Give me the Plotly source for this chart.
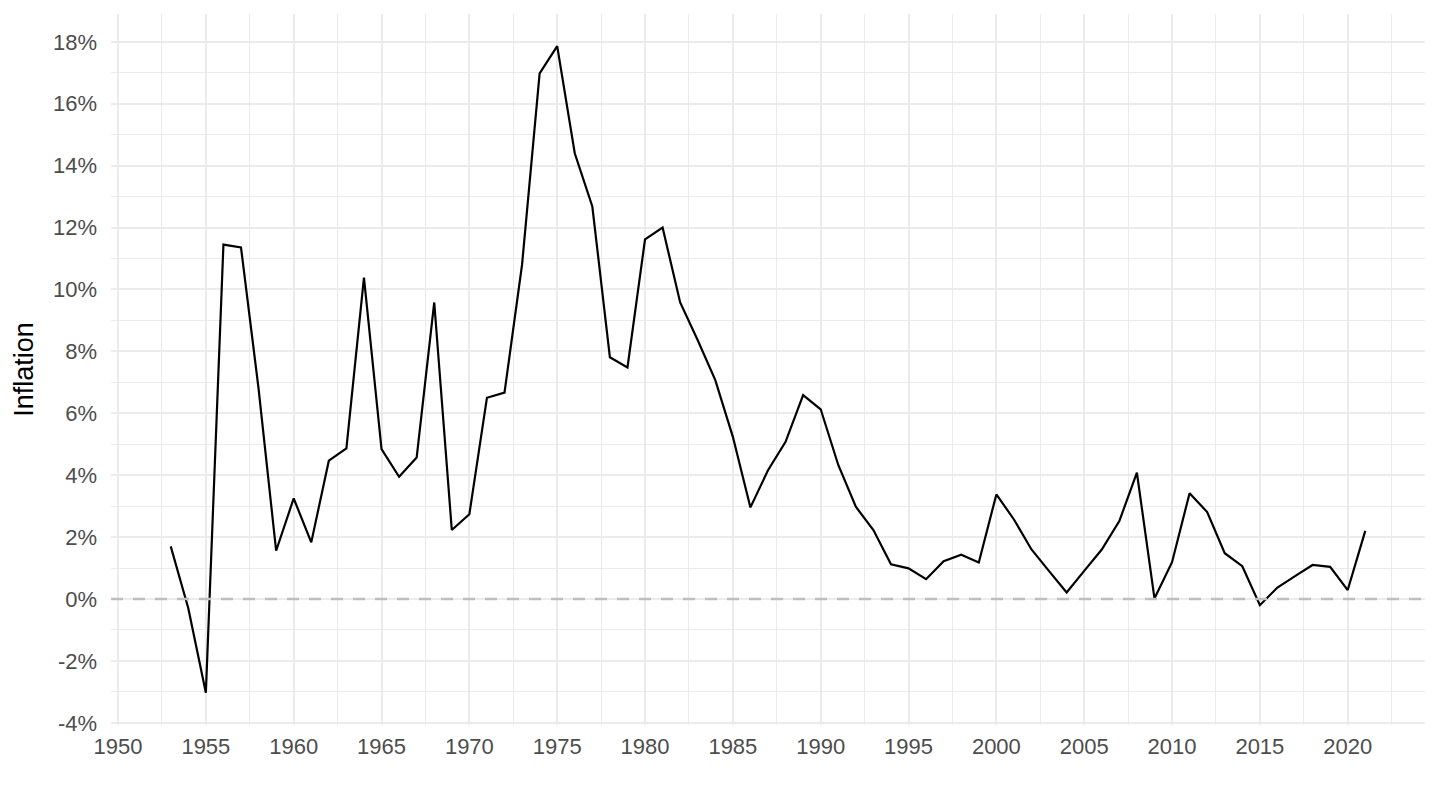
import plotly.graph_objects as go

years = list(range(1953, 2022))
inflation = [
    1.70, -0.30, -3.03, 11.45, 11.36, 6.80, 1.56, 3.25, 1.83, 4.47,
    4.87, 10.38, 4.84, 3.95, 4.57, 9.58, 2.23, 2.74, 6.50, 6.67,
    10.80, 16.98, 17.86, 14.40, 12.68, 7.81, 7.48, 11.62, 12.00, 9.58,
    8.36, 7.07, 5.24, 2.96, 4.16, 5.08, 6.59, 6.13, 4.33, 2.98,
    2.23, 1.12, 0.99, 0.64, 1.22, 1.43, 1.18, 3.38, 2.57, 1.60,
    0.90, 0.21, 0.91, 1.60, 2.52, 4.08, 0.02, 1.19, 3.42, 2.81,
    1.48, 1.06, -0.20, 0.37, 0.74, 1.10, 1.04, 0.29, 2.20,
]

y_tick_vals = [-4, -2, 0, 2, 4, 6, 8, 10, 12, 14, 16, 18]
y_tick_labels = ["-4%", "-2%", "0%", "2%", "4%", "6%", "8%", "10%", "12%", "14%", "16%", "18%"]
x_tick_vals = list(range(1950, 2025, 5))
x_tick_labels = [str(v) for v in x_tick_vals]

FONT = "Liberation Sans, Arial, sans-serif"
GRID = "#ebebeb"

fig = go.Figure()
fig.add_hline(y=0, line=dict(color="#bebebe", width=2.4, dash="12px,10px"))
fig.add_trace(go.Scatter(
    x=years, y=inflation, mode="lines",
    line=dict(color="black", width=2.2),
    hoverinfo="x+y", showlegend=False,
))

fig.update_layout(
    width=1440, height=810,
    margin=dict(l=111, r=15, t=14, b=85, pad=0),
    paper_bgcolor="white", plot_bgcolor="white",
    font=dict(family=FONT, color="#4d4d4d", size=22),
    xaxis=dict(
        range=[1949.6, 2024.4],
        tickmode="array", tickvals=x_tick_vals, ticktext=x_tick_labels,
        showgrid=True, gridcolor=GRID, gridwidth=2.4,
        minor=dict(tickmode="linear", tick0=1950, dtick=2.5, showgrid=True,
                   gridcolor=GRID, gridwidth=1.2),
        zeroline=False, showline=False, ticks="",
        tickfont=dict(size=22, color="#4d4d4d"),
        ticklabelstandoff=6,
    ),
    yaxis=dict(
        range=[-4.07, 18.9],
        tickmode="array", tickvals=y_tick_vals, ticktext=y_tick_labels,
        showgrid=True, gridcolor=GRID, gridwidth=2.4,
        minor=dict(tickmode="linear", tick0=0, dtick=1, showgrid=True,
                   gridcolor=GRID, gridwidth=1.2),
        zeroline=False, showline=False, ticks="",
        tickfont=dict(size=22, color="#4d4d4d"),
        ticklabelstandoff=13,
        title=dict(text="Inflation", font=dict(size=27, color="black"), standoff=11),
    ),
)

fig.write_html("out.html", config={"displayModeBar": False},
               post_script="document.body.style.margin='0';")
